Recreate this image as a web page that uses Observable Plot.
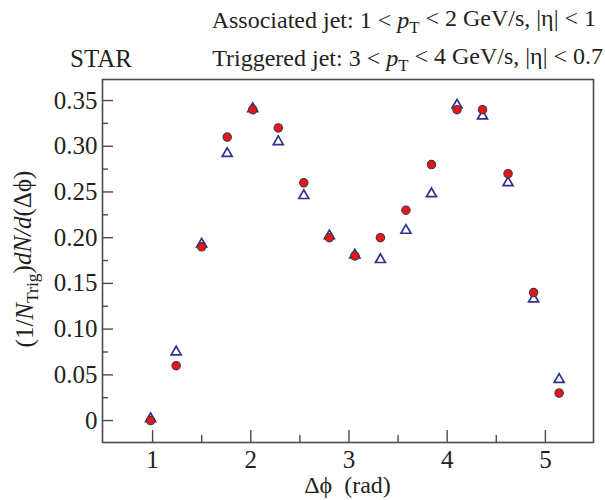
<!DOCTYPE html>
<html>
<head>
<meta charset="utf-8">
<script src="https://cdn.jsdelivr.net/npm/d3@7"></script>
<script src="https://cdn.jsdelivr.net/npm/@observablehq/plot@0.6"></script>
<style>
  html, body { margin: 0; padding: 0; background: #fff; }
</style>
</head>
<body>
<div id="chart"></div>
<script>
// Δφ bin centres (rad)
const dphi = [0.98, 1.24, 1.50, 1.76, 2.02, 2.28, 2.54, 2.80, 3.06, 3.32, 3.58, 3.84, 4.10, 4.36, 4.62, 4.88, 5.14];
// red filled circles
const circleVals = [0.000, 0.060, 0.190, 0.310, 0.340, 0.320, 0.260, 0.200, 0.180, 0.200, 0.230, 0.280, 0.340, 0.340, 0.270, 0.140, 0.030];
// open blue triangles
const triangleVals = [0.002, 0.075, 0.193, 0.292, 0.341, 0.305, 0.246, 0.202, 0.181, 0.176, 0.208, 0.248, 0.345, 0.333, 0.260, 0.133, 0.045];

const yMajor = [0, 0.05, 0.10, 0.15, 0.20, 0.25, 0.30, 0.35];
const yMinor = [0.025, 0.075, 0.125, 0.175, 0.225, 0.275, 0.325];
const xMajor = [1, 2, 3, 4, 5];
const xMinor = [1.5, 2.5, 3.5, 4.5];

const circles = dphi.map((x, i) => ({x, y: circleVals[i]}));
const triangles = dphi.map((x, i) => ({x, y: triangleVals[i]}));

const axisColor = "#4a4a4a";
const textColor = "#231f20";
const serif = "'Liberation Serif', 'Times New Roman', serif";

const chart = Plot.plot({
  width: 605,
  height: 500,
  marginLeft: 102,
  marginRight: 12,
  marginTop: 79,
  marginBottom: 58,
  style: {fontFamily: serif, fontSize: "25px", color: textColor, background: "#fff"},
  x: {domain: [0.49, 5.49]},
  y: {domain: [-0.024, 0.373]},
  marks: [
    Plot.frame({stroke: axisColor, strokeWidth: 1.6}),
    // inward major/minor ticks
    Plot.axisY(yMajor, {tickSize: -11, text: null, stroke: axisColor, strokeWidth: 1.4, label: null}),
    Plot.axisY(yMinor, {tickSize: -6, text: null, stroke: axisColor, strokeWidth: 1.4, label: null}),
    Plot.axisX(xMajor, {tickSize: -12, text: null, stroke: axisColor, strokeWidth: 1.4, label: null}),
    Plot.axisX(xMinor, {tickSize: -7, text: null, stroke: axisColor, strokeWidth: 1.4, label: null}),
    // tick labels
    Plot.axisY(yMajor, {tickSize: 0, tickPadding: 5, tickFormat: d => d === 0 ? "0" : d.toFixed(2), label: null, fill: textColor}),
    Plot.axisX(xMajor, {tickSize: 0, tickPadding: 8, tickFormat: d => String(d), label: null, fill: textColor}),
    Plot.dot(triangles, {x: "x", y: "y", symbol: "triangle", r: 3.7, stroke: "#2e3192", strokeWidth: 1.7, fill: "none"}),
    Plot.dot(circles, {x: "x", y: "y", r: 4.2, fill: "#e8141c", stroke: "#3a3a3a", strokeWidth: 1.1})
  ]
});

document.getElementById("chart").appendChild(chart);

// Annotations as real SVG text
const svg = d3.select(chart);
const g = svg.append("g")
  .attr("font-family", serif)
  .attr("fill", textColor);

function ptLine(t, parts) {
  parts.forEach(([s, st]) => {
    const ts = t.append("tspan").text(s);
    if (st === "i") ts.attr("font-style", "italic");
    if (st === "sub") ts.attr("font-size", "0.7em").attr("dy", "0.3em");
    if (st === "after") ts.attr("dy", "-0.3em");
  });
}

const t1 = g.append("text").attr("x", 596).attr("y", 28).attr("text-anchor", "end").attr("font-size", 24);
ptLine(t1, [["Associated jet: 1 < ", ""], ["p", "i"], ["T", "sub"], [" < 2 GeV/s, |η| < 1", "after"]]);

g.append("text").attr("x", 101).attr("y", 67).attr("font-size", 25).text("STAR");

const t2 = g.append("text").attr("x", 603).attr("y", 66).attr("text-anchor", "end").attr("font-size", 24);
ptLine(t2, [["Triggered jet: 3 < ", ""], ["p", "i"], ["T", "sub"], [" < 4 GeV/s, |η| < 0.7", "after"]]);

const yl = g.append("text").attr("text-anchor", "middle").attr("font-size", 25)
  .attr("transform", "translate(33,259) rotate(-90)");
ptLine(yl, [["(1/", ""], ["N", "i"], ["Trig", "sub"], [")", "after"], ["dN", "i"], ["/", "i"], ["d", "i"], ["(Δ\u03d5)", ""]]);

g.append("text").attr("x", 347.5).attr("y", 493).attr("text-anchor", "middle").attr("font-size", 24)
  .text("Δ\u03d5\u00a0\u00a0(rad)");
</script>
</body>
</html>
